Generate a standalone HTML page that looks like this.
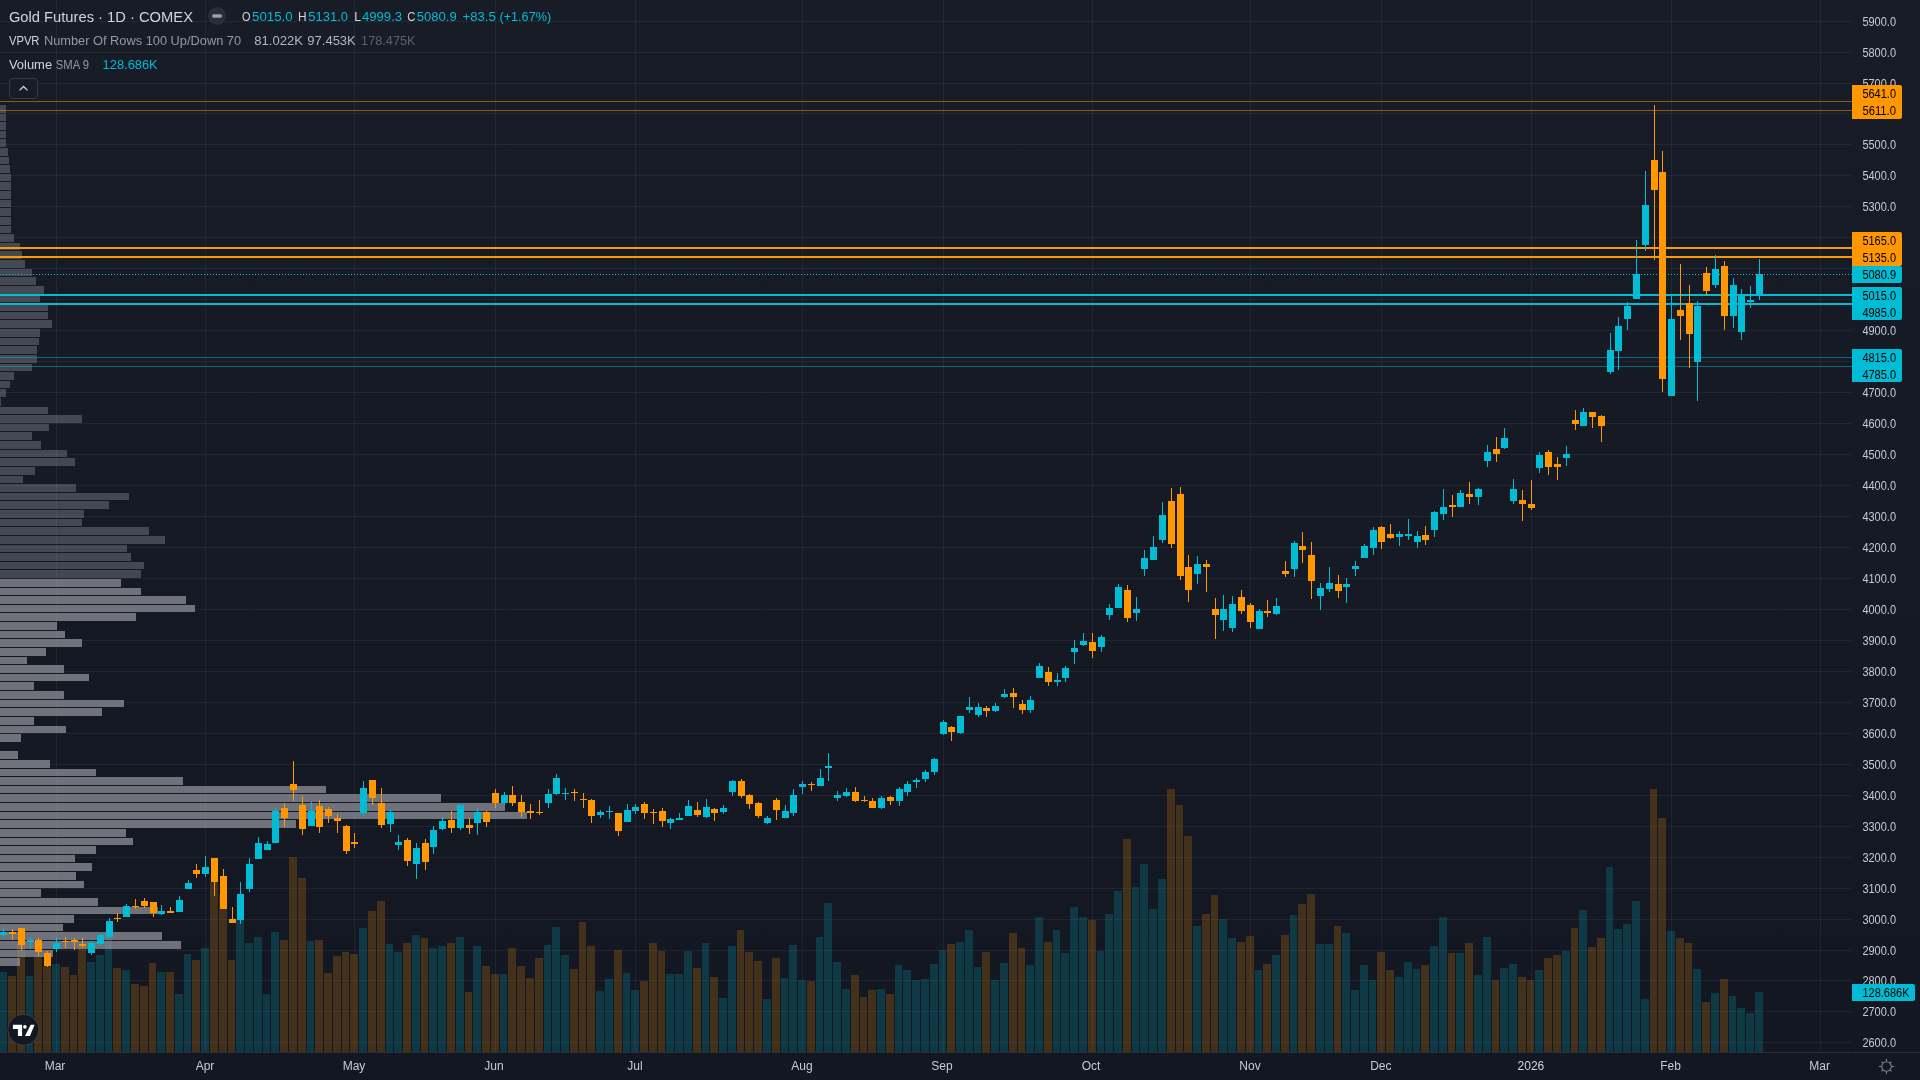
<!DOCTYPE html><html><head><meta charset="utf-8"><title>Gold Futures 1D COMEX</title><style>
html,body{margin:0;padding:0;width:1920px;height:1080px;overflow:hidden;background:#131722}
svg{position:absolute;left:0;top:0;display:block;will-change:transform}
text{font-family:"Liberation Sans",Arial,sans-serif;-webkit-font-smoothing:antialiased}
</style></head><body>
<svg width="1920" height="1080" viewBox="0 0 1920 1080">
<defs><linearGradient id="bg" x1="0" y1="0" x2="0" y2="1"><stop offset="0" stop-color="#181c27"/><stop offset="1" stop-color="#131722"/></linearGradient></defs>
<rect x="0" y="0" width="1920" height="1080" fill="url(#bg)"/>
<g shape-rendering="crispEdges" fill="rgba(240,243,250,0.06)">
<rect x="0" y="1042" width="1852" height="1"/>
<rect x="0" y="1011" width="1852" height="1"/>
<rect x="0" y="980" width="1852" height="1"/>
<rect x="0" y="950" width="1852" height="1"/>
<rect x="0" y="919" width="1852" height="1"/>
<rect x="0" y="888" width="1852" height="1"/>
<rect x="0" y="857" width="1852" height="1"/>
<rect x="0" y="826" width="1852" height="1"/>
<rect x="0" y="795" width="1852" height="1"/>
<rect x="0" y="764" width="1852" height="1"/>
<rect x="0" y="733" width="1852" height="1"/>
<rect x="0" y="702" width="1852" height="1"/>
<rect x="0" y="671" width="1852" height="1"/>
<rect x="0" y="640" width="1852" height="1"/>
<rect x="0" y="609" width="1852" height="1"/>
<rect x="0" y="578" width="1852" height="1"/>
<rect x="0" y="547" width="1852" height="1"/>
<rect x="0" y="516" width="1852" height="1"/>
<rect x="0" y="485" width="1852" height="1"/>
<rect x="0" y="454" width="1852" height="1"/>
<rect x="0" y="423" width="1852" height="1"/>
<rect x="0" y="392" width="1852" height="1"/>
<rect x="0" y="361" width="1852" height="1"/>
<rect x="0" y="330" width="1852" height="1"/>
<rect x="0" y="299" width="1852" height="1"/>
<rect x="0" y="268" width="1852" height="1"/>
<rect x="0" y="237" width="1852" height="1"/>
<rect x="0" y="206" width="1852" height="1"/>
<rect x="0" y="175" width="1852" height="1"/>
<rect x="0" y="144" width="1852" height="1"/>
<rect x="0" y="113" width="1852" height="1"/>
<rect x="0" y="83" width="1852" height="1"/>
<rect x="0" y="52" width="1852" height="1"/>
<rect x="0" y="21" width="1852" height="1"/>
<rect x="56" y="0" width="1" height="1052"/>
<rect x="205" y="0" width="1" height="1052"/>
<rect x="354" y="0" width="1" height="1052"/>
<rect x="495" y="0" width="1" height="1052"/>
<rect x="635" y="0" width="1" height="1052"/>
<rect x="802" y="0" width="1" height="1052"/>
<rect x="943" y="0" width="1" height="1052"/>
<rect x="1092" y="0" width="1" height="1052"/>
<rect x="1250" y="0" width="1" height="1052"/>
<rect x="1381" y="0" width="1" height="1052"/>
<rect x="1531" y="0" width="1" height="1052"/>
<rect x="1671" y="0" width="1" height="1052"/>
<rect x="1820" y="0" width="1" height="1052"/>
</g>
<g shape-rendering="crispEdges">
<rect x="0" y="972" width="7" height="80" fill="rgba(0,188,212,0.2)"/>
<rect x="8" y="976" width="8" height="76" fill="rgba(255,152,0,0.2)"/>
<rect x="17" y="945" width="8" height="107" fill="rgba(255,152,0,0.2)"/>
<rect x="26" y="976" width="7" height="76" fill="rgba(0,188,212,0.2)"/>
<rect x="34" y="956" width="8" height="96" fill="rgba(255,152,0,0.2)"/>
<rect x="43" y="966" width="8" height="86" fill="rgba(255,152,0,0.2)"/>
<rect x="52" y="964" width="8" height="88" fill="rgba(0,188,212,0.2)"/>
<rect x="61" y="967" width="8" height="85" fill="rgba(255,152,0,0.2)"/>
<rect x="70" y="975" width="7" height="77" fill="rgba(255,152,0,0.2)"/>
<rect x="78" y="947" width="8" height="105" fill="rgba(255,152,0,0.2)"/>
<rect x="87" y="962" width="8" height="90" fill="rgba(0,188,212,0.2)"/>
<rect x="96" y="955" width="8" height="97" fill="rgba(0,188,212,0.2)"/>
<rect x="105" y="937" width="7" height="115" fill="rgba(0,188,212,0.2)"/>
<rect x="113" y="968" width="8" height="84" fill="rgba(255,152,0,0.2)"/>
<rect x="122" y="970" width="8" height="82" fill="rgba(0,188,212,0.2)"/>
<rect x="131" y="984" width="8" height="68" fill="rgba(255,152,0,0.2)"/>
<rect x="140" y="986" width="8" height="66" fill="rgba(255,152,0,0.2)"/>
<rect x="149" y="963" width="7" height="89" fill="rgba(255,152,0,0.2)"/>
<rect x="157" y="972" width="8" height="80" fill="rgba(0,188,212,0.2)"/>
<rect x="166" y="972" width="8" height="80" fill="rgba(255,152,0,0.2)"/>
<rect x="175" y="994" width="8" height="58" fill="rgba(0,188,212,0.2)"/>
<rect x="184" y="954" width="7" height="98" fill="rgba(0,188,212,0.2)"/>
<rect x="192" y="960" width="8" height="92" fill="rgba(255,152,0,0.2)"/>
<rect x="201" y="948" width="8" height="104" fill="rgba(0,188,212,0.2)"/>
<rect x="210" y="882" width="8" height="170" fill="rgba(255,152,0,0.2)"/>
<rect x="219" y="894" width="8" height="158" fill="rgba(255,152,0,0.2)"/>
<rect x="228" y="960" width="7" height="92" fill="rgba(255,152,0,0.2)"/>
<rect x="236" y="918" width="8" height="134" fill="rgba(0,188,212,0.2)"/>
<rect x="245" y="943" width="8" height="109" fill="rgba(0,188,212,0.2)"/>
<rect x="254" y="937" width="8" height="115" fill="rgba(0,188,212,0.2)"/>
<rect x="263" y="994" width="7" height="58" fill="rgba(0,188,212,0.2)"/>
<rect x="271" y="932" width="8" height="120" fill="rgba(0,188,212,0.2)"/>
<rect x="280" y="940" width="8" height="112" fill="rgba(255,152,0,0.2)"/>
<rect x="289" y="857" width="8" height="195" fill="rgba(255,152,0,0.2)"/>
<rect x="298" y="878" width="8" height="174" fill="rgba(255,152,0,0.2)"/>
<rect x="307" y="941" width="7" height="111" fill="rgba(0,188,212,0.2)"/>
<rect x="315" y="940" width="8" height="112" fill="rgba(255,152,0,0.2)"/>
<rect x="324" y="973" width="8" height="79" fill="rgba(255,152,0,0.2)"/>
<rect x="333" y="956" width="8" height="96" fill="rgba(255,152,0,0.2)"/>
<rect x="342" y="952" width="7" height="100" fill="rgba(255,152,0,0.2)"/>
<rect x="350" y="954" width="8" height="98" fill="rgba(255,152,0,0.2)"/>
<rect x="359" y="928" width="8" height="124" fill="rgba(0,188,212,0.2)"/>
<rect x="368" y="911" width="8" height="141" fill="rgba(255,152,0,0.2)"/>
<rect x="377" y="901" width="8" height="151" fill="rgba(255,152,0,0.2)"/>
<rect x="386" y="944" width="7" height="108" fill="rgba(0,188,212,0.2)"/>
<rect x="394" y="952" width="8" height="100" fill="rgba(0,188,212,0.2)"/>
<rect x="403" y="943" width="8" height="109" fill="rgba(255,152,0,0.2)"/>
<rect x="412" y="935" width="8" height="117" fill="rgba(0,188,212,0.2)"/>
<rect x="421" y="938" width="7" height="114" fill="rgba(255,152,0,0.2)"/>
<rect x="429" y="948" width="8" height="104" fill="rgba(0,188,212,0.2)"/>
<rect x="438" y="946" width="8" height="106" fill="rgba(0,188,212,0.2)"/>
<rect x="447" y="943" width="8" height="109" fill="rgba(255,152,0,0.2)"/>
<rect x="456" y="937" width="8" height="115" fill="rgba(0,188,212,0.2)"/>
<rect x="465" y="992" width="7" height="60" fill="rgba(255,152,0,0.2)"/>
<rect x="473" y="946" width="8" height="106" fill="rgba(0,188,212,0.2)"/>
<rect x="482" y="966" width="8" height="86" fill="rgba(255,152,0,0.2)"/>
<rect x="491" y="974" width="8" height="78" fill="rgba(255,152,0,0.2)"/>
<rect x="500" y="974" width="7" height="78" fill="rgba(0,188,212,0.2)"/>
<rect x="508" y="948" width="8" height="104" fill="rgba(255,152,0,0.2)"/>
<rect x="517" y="966" width="8" height="86" fill="rgba(255,152,0,0.2)"/>
<rect x="526" y="978" width="8" height="74" fill="rgba(255,152,0,0.2)"/>
<rect x="535" y="958" width="8" height="94" fill="rgba(255,152,0,0.2)"/>
<rect x="544" y="945" width="7" height="107" fill="rgba(0,188,212,0.2)"/>
<rect x="552" y="927" width="8" height="125" fill="rgba(0,188,212,0.2)"/>
<rect x="561" y="955" width="8" height="97" fill="rgba(0,188,212,0.2)"/>
<rect x="570" y="969" width="8" height="83" fill="rgba(255,152,0,0.2)"/>
<rect x="579" y="922" width="7" height="130" fill="rgba(255,152,0,0.2)"/>
<rect x="587" y="946" width="8" height="106" fill="rgba(255,152,0,0.2)"/>
<rect x="596" y="991" width="8" height="61" fill="rgba(0,188,212,0.2)"/>
<rect x="605" y="979" width="8" height="73" fill="rgba(0,188,212,0.2)"/>
<rect x="614" y="950" width="8" height="102" fill="rgba(255,152,0,0.2)"/>
<rect x="623" y="973" width="7" height="79" fill="rgba(0,188,212,0.2)"/>
<rect x="631" y="990" width="8" height="62" fill="rgba(0,188,212,0.2)"/>
<rect x="640" y="981" width="8" height="71" fill="rgba(255,152,0,0.2)"/>
<rect x="649" y="943" width="8" height="109" fill="rgba(255,152,0,0.2)"/>
<rect x="658" y="951" width="7" height="101" fill="rgba(255,152,0,0.2)"/>
<rect x="666" y="974" width="8" height="78" fill="rgba(0,188,212,0.2)"/>
<rect x="675" y="974" width="8" height="78" fill="rgba(0,188,212,0.2)"/>
<rect x="684" y="951" width="8" height="101" fill="rgba(0,188,212,0.2)"/>
<rect x="693" y="968" width="8" height="84" fill="rgba(255,152,0,0.2)"/>
<rect x="702" y="943" width="7" height="109" fill="rgba(0,188,212,0.2)"/>
<rect x="710" y="977" width="8" height="75" fill="rgba(255,152,0,0.2)"/>
<rect x="719" y="998" width="8" height="54" fill="rgba(0,188,212,0.2)"/>
<rect x="728" y="946" width="8" height="106" fill="rgba(0,188,212,0.2)"/>
<rect x="737" y="930" width="7" height="122" fill="rgba(255,152,0,0.2)"/>
<rect x="745" y="952" width="8" height="100" fill="rgba(255,152,0,0.2)"/>
<rect x="754" y="961" width="8" height="91" fill="rgba(255,152,0,0.2)"/>
<rect x="763" y="999" width="8" height="53" fill="rgba(0,188,212,0.2)"/>
<rect x="772" y="958" width="8" height="94" fill="rgba(255,152,0,0.2)"/>
<rect x="781" y="978" width="7" height="74" fill="rgba(0,188,212,0.2)"/>
<rect x="789" y="945" width="8" height="107" fill="rgba(0,188,212,0.2)"/>
<rect x="798" y="980" width="8" height="72" fill="rgba(0,188,212,0.2)"/>
<rect x="807" y="981" width="8" height="71" fill="rgba(255,152,0,0.2)"/>
<rect x="816" y="937" width="7" height="115" fill="rgba(0,188,212,0.2)"/>
<rect x="824" y="903" width="8" height="149" fill="rgba(0,188,212,0.2)"/>
<rect x="833" y="962" width="8" height="90" fill="rgba(0,188,212,0.2)"/>
<rect x="842" y="989" width="8" height="63" fill="rgba(0,188,212,0.2)"/>
<rect x="851" y="975" width="8" height="77" fill="rgba(255,152,0,0.2)"/>
<rect x="860" y="997" width="7" height="55" fill="rgba(255,152,0,0.2)"/>
<rect x="868" y="990" width="8" height="62" fill="rgba(255,152,0,0.2)"/>
<rect x="877" y="989" width="8" height="63" fill="rgba(0,188,212,0.2)"/>
<rect x="886" y="994" width="8" height="58" fill="rgba(255,152,0,0.2)"/>
<rect x="895" y="965" width="7" height="87" fill="rgba(0,188,212,0.2)"/>
<rect x="903" y="970" width="8" height="82" fill="rgba(0,188,212,0.2)"/>
<rect x="912" y="980" width="8" height="72" fill="rgba(0,188,212,0.2)"/>
<rect x="921" y="979" width="8" height="73" fill="rgba(0,188,212,0.2)"/>
<rect x="930" y="964" width="8" height="88" fill="rgba(0,188,212,0.2)"/>
<rect x="939" y="950" width="7" height="102" fill="rgba(0,188,212,0.2)"/>
<rect x="947" y="944" width="8" height="108" fill="rgba(255,152,0,0.2)"/>
<rect x="956" y="942" width="8" height="110" fill="rgba(0,188,212,0.2)"/>
<rect x="965" y="930" width="8" height="122" fill="rgba(0,188,212,0.2)"/>
<rect x="974" y="967" width="7" height="85" fill="rgba(0,188,212,0.2)"/>
<rect x="982" y="952" width="8" height="100" fill="rgba(255,152,0,0.2)"/>
<rect x="991" y="980" width="8" height="72" fill="rgba(0,188,212,0.2)"/>
<rect x="1000" y="963" width="8" height="89" fill="rgba(0,188,212,0.2)"/>
<rect x="1009" y="933" width="8" height="119" fill="rgba(255,152,0,0.2)"/>
<rect x="1018" y="948" width="7" height="104" fill="rgba(255,152,0,0.2)"/>
<rect x="1026" y="965" width="8" height="87" fill="rgba(0,188,212,0.2)"/>
<rect x="1035" y="917" width="8" height="135" fill="rgba(0,188,212,0.2)"/>
<rect x="1044" y="942" width="8" height="110" fill="rgba(255,152,0,0.2)"/>
<rect x="1053" y="930" width="7" height="122" fill="rgba(0,188,212,0.2)"/>
<rect x="1061" y="953" width="8" height="99" fill="rgba(0,188,212,0.2)"/>
<rect x="1070" y="907" width="8" height="145" fill="rgba(0,188,212,0.2)"/>
<rect x="1079" y="917" width="8" height="135" fill="rgba(0,188,212,0.2)"/>
<rect x="1088" y="920" width="8" height="132" fill="rgba(255,152,0,0.2)"/>
<rect x="1097" y="951" width="7" height="101" fill="rgba(0,188,212,0.2)"/>
<rect x="1105" y="914" width="8" height="138" fill="rgba(0,188,212,0.2)"/>
<rect x="1114" y="891" width="8" height="161" fill="rgba(0,188,212,0.2)"/>
<rect x="1123" y="839" width="8" height="213" fill="rgba(255,152,0,0.2)"/>
<rect x="1132" y="887" width="7" height="165" fill="rgba(0,188,212,0.2)"/>
<rect x="1140" y="864" width="8" height="188" fill="rgba(0,188,212,0.2)"/>
<rect x="1149" y="909" width="8" height="143" fill="rgba(0,188,212,0.2)"/>
<rect x="1158" y="879" width="8" height="173" fill="rgba(0,188,212,0.2)"/>
<rect x="1167" y="789" width="8" height="263" fill="rgba(255,152,0,0.2)"/>
<rect x="1176" y="805" width="7" height="247" fill="rgba(255,152,0,0.2)"/>
<rect x="1184" y="836" width="8" height="216" fill="rgba(255,152,0,0.2)"/>
<rect x="1193" y="926" width="8" height="126" fill="rgba(0,188,212,0.2)"/>
<rect x="1202" y="914" width="8" height="138" fill="rgba(255,152,0,0.2)"/>
<rect x="1211" y="895" width="7" height="157" fill="rgba(255,152,0,0.2)"/>
<rect x="1219" y="919" width="8" height="133" fill="rgba(0,188,212,0.2)"/>
<rect x="1228" y="938" width="8" height="114" fill="rgba(0,188,212,0.2)"/>
<rect x="1237" y="942" width="8" height="110" fill="rgba(255,152,0,0.2)"/>
<rect x="1246" y="936" width="8" height="116" fill="rgba(255,152,0,0.2)"/>
<rect x="1255" y="970" width="7" height="82" fill="rgba(0,188,212,0.2)"/>
<rect x="1263" y="964" width="8" height="88" fill="rgba(255,152,0,0.2)"/>
<rect x="1272" y="955" width="8" height="97" fill="rgba(0,188,212,0.2)"/>
<rect x="1281" y="935" width="8" height="117" fill="rgba(255,152,0,0.2)"/>
<rect x="1290" y="915" width="7" height="137" fill="rgba(0,188,212,0.2)"/>
<rect x="1298" y="904" width="8" height="148" fill="rgba(255,152,0,0.2)"/>
<rect x="1307" y="894" width="8" height="158" fill="rgba(255,152,0,0.2)"/>
<rect x="1316" y="944" width="8" height="108" fill="rgba(0,188,212,0.2)"/>
<rect x="1325" y="944" width="8" height="108" fill="rgba(0,188,212,0.2)"/>
<rect x="1334" y="926" width="7" height="126" fill="rgba(255,152,0,0.2)"/>
<rect x="1342" y="933" width="8" height="119" fill="rgba(0,188,212,0.2)"/>
<rect x="1351" y="990" width="8" height="62" fill="rgba(0,188,212,0.2)"/>
<rect x="1360" y="965" width="8" height="87" fill="rgba(0,188,212,0.2)"/>
<rect x="1369" y="980" width="7" height="72" fill="rgba(0,188,212,0.2)"/>
<rect x="1377" y="952" width="8" height="100" fill="rgba(255,152,0,0.2)"/>
<rect x="1386" y="970" width="8" height="82" fill="rgba(255,152,0,0.2)"/>
<rect x="1395" y="977" width="8" height="75" fill="rgba(0,188,212,0.2)"/>
<rect x="1404" y="962" width="8" height="90" fill="rgba(0,188,212,0.2)"/>
<rect x="1413" y="969" width="7" height="83" fill="rgba(0,188,212,0.2)"/>
<rect x="1421" y="965" width="8" height="87" fill="rgba(255,152,0,0.2)"/>
<rect x="1430" y="946" width="8" height="106" fill="rgba(0,188,212,0.2)"/>
<rect x="1439" y="917" width="8" height="135" fill="rgba(0,188,212,0.2)"/>
<rect x="1448" y="953" width="7" height="99" fill="rgba(255,152,0,0.2)"/>
<rect x="1456" y="953" width="8" height="99" fill="rgba(0,188,212,0.2)"/>
<rect x="1465" y="943" width="8" height="109" fill="rgba(255,152,0,0.2)"/>
<rect x="1474" y="975" width="8" height="77" fill="rgba(0,188,212,0.2)"/>
<rect x="1483" y="937" width="8" height="115" fill="rgba(0,188,212,0.2)"/>
<rect x="1492" y="980" width="7" height="72" fill="rgba(255,152,0,0.2)"/>
<rect x="1500" y="968" width="8" height="84" fill="rgba(0,188,212,0.2)"/>
<rect x="1509" y="964" width="8" height="88" fill="rgba(0,188,212,0.2)"/>
<rect x="1518" y="977" width="8" height="75" fill="rgba(255,152,0,0.2)"/>
<rect x="1527" y="980" width="7" height="72" fill="rgba(255,152,0,0.2)"/>
<rect x="1535" y="970" width="8" height="82" fill="rgba(0,188,212,0.2)"/>
<rect x="1544" y="958" width="8" height="94" fill="rgba(255,152,0,0.2)"/>
<rect x="1553" y="955" width="8" height="97" fill="rgba(255,152,0,0.2)"/>
<rect x="1562" y="951" width="8" height="101" fill="rgba(0,188,212,0.2)"/>
<rect x="1571" y="928" width="7" height="124" fill="rgba(255,152,0,0.2)"/>
<rect x="1579" y="910" width="8" height="142" fill="rgba(0,188,212,0.2)"/>
<rect x="1588" y="947" width="8" height="105" fill="rgba(255,152,0,0.2)"/>
<rect x="1597" y="938" width="8" height="114" fill="rgba(255,152,0,0.2)"/>
<rect x="1606" y="867" width="7" height="185" fill="rgba(0,188,212,0.2)"/>
<rect x="1614" y="929" width="8" height="123" fill="rgba(0,188,212,0.2)"/>
<rect x="1623" y="924" width="8" height="128" fill="rgba(0,188,212,0.2)"/>
<rect x="1632" y="901" width="8" height="151" fill="rgba(0,188,212,0.2)"/>
<rect x="1641" y="999" width="8" height="53" fill="rgba(0,188,212,0.2)"/>
<rect x="1650" y="789" width="7" height="263" fill="rgba(255,152,0,0.2)"/>
<rect x="1658" y="818" width="8" height="234" fill="rgba(255,152,0,0.2)"/>
<rect x="1667" y="931" width="8" height="121" fill="rgba(0,188,212,0.2)"/>
<rect x="1676" y="938" width="8" height="114" fill="rgba(255,152,0,0.2)"/>
<rect x="1685" y="943" width="7" height="109" fill="rgba(255,152,0,0.2)"/>
<rect x="1693" y="969" width="8" height="83" fill="rgba(0,188,212,0.2)"/>
<rect x="1702" y="1002" width="8" height="50" fill="rgba(255,152,0,0.2)"/>
<rect x="1711" y="993" width="8" height="59" fill="rgba(0,188,212,0.2)"/>
<rect x="1720" y="979" width="8" height="73" fill="rgba(255,152,0,0.2)"/>
<rect x="1729" y="996" width="7" height="56" fill="rgba(0,188,212,0.2)"/>
<rect x="1737" y="1008" width="8" height="44" fill="rgba(0,188,212,0.2)"/>
<rect x="1746" y="1013" width="8" height="39" fill="rgba(0,188,212,0.2)"/>
<rect x="1755" y="992" width="8" height="60" fill="rgba(0,188,212,0.2)"/>
</g>
<g shape-rendering="crispEdges">
<rect x="0" y="105" width="6" height="8" fill="rgba(149,152,161,0.37)"/>
<rect x="0" y="114" width="6" height="7" fill="rgba(149,152,161,0.37)"/>
<rect x="0" y="122" width="6" height="8" fill="rgba(149,152,161,0.37)"/>
<rect x="0" y="131" width="6" height="7" fill="rgba(149,152,161,0.37)"/>
<rect x="0" y="139" width="6" height="8" fill="rgba(149,152,161,0.37)"/>
<rect x="0" y="148" width="8" height="8" fill="rgba(149,152,161,0.37)"/>
<rect x="0" y="157" width="9" height="7" fill="rgba(149,152,161,0.37)"/>
<rect x="0" y="165" width="10" height="8" fill="rgba(149,152,161,0.37)"/>
<rect x="0" y="174" width="11" height="7" fill="rgba(149,152,161,0.37)"/>
<rect x="0" y="182" width="11" height="8" fill="rgba(149,152,161,0.37)"/>
<rect x="0" y="191" width="11" height="8" fill="rgba(149,152,161,0.37)"/>
<rect x="0" y="200" width="11" height="7" fill="rgba(149,152,161,0.37)"/>
<rect x="0" y="208" width="11" height="8" fill="rgba(149,152,161,0.37)"/>
<rect x="0" y="217" width="11" height="8" fill="rgba(149,152,161,0.37)"/>
<rect x="0" y="226" width="11" height="7" fill="rgba(149,152,161,0.37)"/>
<rect x="0" y="234" width="14" height="8" fill="rgba(149,152,161,0.37)"/>
<rect x="0" y="243" width="20" height="7" fill="rgba(149,152,161,0.37)"/>
<rect x="0" y="251" width="22" height="8" fill="rgba(149,152,161,0.37)"/>
<rect x="0" y="260" width="25" height="8" fill="rgba(149,152,161,0.37)"/>
<rect x="0" y="269" width="32" height="7" fill="rgba(149,152,161,0.37)"/>
<rect x="0" y="277" width="36" height="8" fill="rgba(149,152,161,0.37)"/>
<rect x="0" y="286" width="44" height="8" fill="rgba(149,152,161,0.37)"/>
<rect x="0" y="295" width="40" height="7" fill="rgba(149,152,161,0.37)"/>
<rect x="0" y="303" width="48" height="8" fill="rgba(149,152,161,0.37)"/>
<rect x="0" y="312" width="48" height="7" fill="rgba(149,152,161,0.37)"/>
<rect x="0" y="320" width="52" height="8" fill="rgba(149,152,161,0.37)"/>
<rect x="0" y="329" width="40" height="8" fill="rgba(149,152,161,0.37)"/>
<rect x="0" y="338" width="39" height="7" fill="rgba(149,152,161,0.37)"/>
<rect x="0" y="346" width="37" height="8" fill="rgba(149,152,161,0.37)"/>
<rect x="0" y="355" width="37" height="8" fill="rgba(149,152,161,0.37)"/>
<rect x="0" y="364" width="32" height="7" fill="rgba(149,152,161,0.37)"/>
<rect x="0" y="372" width="14" height="8" fill="rgba(149,152,161,0.37)"/>
<rect x="0" y="381" width="10" height="7" fill="rgba(149,152,161,0.37)"/>
<rect x="0" y="389" width="6" height="8" fill="rgba(149,152,161,0.37)"/>
<rect x="0" y="398" width="1" height="8" fill="rgba(149,152,161,0.37)"/>
<rect x="0" y="407" width="48" height="7" fill="rgba(149,152,161,0.37)"/>
<rect x="0" y="415" width="82" height="8" fill="rgba(149,152,161,0.37)"/>
<rect x="0" y="424" width="49" height="7" fill="rgba(149,152,161,0.37)"/>
<rect x="0" y="432" width="32" height="8" fill="rgba(149,152,161,0.37)"/>
<rect x="0" y="441" width="41" height="8" fill="rgba(149,152,161,0.37)"/>
<rect x="0" y="450" width="67" height="7" fill="rgba(149,152,161,0.37)"/>
<rect x="0" y="458" width="75" height="8" fill="rgba(149,152,161,0.37)"/>
<rect x="0" y="467" width="35" height="8" fill="rgba(149,152,161,0.37)"/>
<rect x="0" y="476" width="23" height="7" fill="rgba(149,152,161,0.37)"/>
<rect x="0" y="484" width="76" height="8" fill="rgba(149,152,161,0.37)"/>
<rect x="0" y="493" width="129" height="7" fill="rgba(149,152,161,0.37)"/>
<rect x="0" y="501" width="109" height="8" fill="rgba(149,152,161,0.37)"/>
<rect x="0" y="510" width="84" height="8" fill="rgba(149,152,161,0.37)"/>
<rect x="0" y="519" width="82" height="7" fill="rgba(149,152,161,0.37)"/>
<rect x="0" y="527" width="149" height="8" fill="rgba(149,152,161,0.37)"/>
<rect x="0" y="536" width="165" height="8" fill="rgba(149,152,161,0.37)"/>
<rect x="0" y="545" width="127" height="7" fill="rgba(149,152,161,0.37)"/>
<rect x="0" y="553" width="131" height="8" fill="rgba(149,152,161,0.37)"/>
<rect x="0" y="562" width="144" height="7" fill="rgba(149,152,161,0.37)"/>
<rect x="0" y="570" width="141" height="8" fill="rgba(149,152,161,0.37)"/>
<rect x="0" y="579" width="121" height="8" fill="rgba(149,152,161,0.7)"/>
<rect x="0" y="588" width="141" height="7" fill="rgba(149,152,161,0.7)"/>
<rect x="0" y="596" width="186" height="8" fill="rgba(149,152,161,0.7)"/>
<rect x="0" y="605" width="195" height="7" fill="rgba(149,152,161,0.7)"/>
<rect x="0" y="613" width="136" height="8" fill="rgba(149,152,161,0.7)"/>
<rect x="0" y="622" width="57" height="8" fill="rgba(149,152,161,0.7)"/>
<rect x="0" y="631" width="65" height="7" fill="rgba(149,152,161,0.7)"/>
<rect x="0" y="639" width="82" height="8" fill="rgba(149,152,161,0.7)"/>
<rect x="0" y="648" width="46" height="8" fill="rgba(149,152,161,0.7)"/>
<rect x="0" y="657" width="27" height="7" fill="rgba(149,152,161,0.7)"/>
<rect x="0" y="665" width="64" height="8" fill="rgba(149,152,161,0.7)"/>
<rect x="0" y="674" width="89" height="7" fill="rgba(149,152,161,0.7)"/>
<rect x="0" y="682" width="34" height="8" fill="rgba(149,152,161,0.7)"/>
<rect x="0" y="691" width="64" height="8" fill="rgba(149,152,161,0.7)"/>
<rect x="0" y="700" width="124" height="7" fill="rgba(149,152,161,0.7)"/>
<rect x="0" y="708" width="102" height="8" fill="rgba(149,152,161,0.7)"/>
<rect x="0" y="717" width="34" height="8" fill="rgba(149,152,161,0.7)"/>
<rect x="0" y="726" width="66" height="7" fill="rgba(149,152,161,0.7)"/>
<rect x="0" y="734" width="21" height="8" fill="rgba(149,152,161,0.7)"/>
<rect x="0" y="751" width="18" height="8" fill="rgba(149,152,161,0.7)"/>
<rect x="0" y="760" width="50" height="8" fill="rgba(149,152,161,0.7)"/>
<rect x="0" y="769" width="96" height="7" fill="rgba(149,152,161,0.7)"/>
<rect x="0" y="777" width="183" height="8" fill="rgba(149,152,161,0.7)"/>
<rect x="0" y="786" width="326" height="7" fill="rgba(149,152,161,0.7)"/>
<rect x="0" y="794" width="441" height="8" fill="rgba(149,152,161,0.7)"/>
<rect x="0" y="803" width="505" height="8" fill="rgba(149,152,161,0.7)"/>
<rect x="0" y="812" width="527" height="7" fill="rgba(149,152,161,0.7)"/>
<rect x="0" y="820" width="296" height="8" fill="rgba(149,152,161,0.7)"/>
<rect x="0" y="829" width="126" height="8" fill="rgba(149,152,161,0.7)"/>
<rect x="0" y="838" width="133" height="7" fill="rgba(149,152,161,0.7)"/>
<rect x="0" y="846" width="96" height="8" fill="rgba(149,152,161,0.7)"/>
<rect x="0" y="855" width="75" height="7" fill="rgba(149,152,161,0.7)"/>
<rect x="0" y="863" width="92" height="8" fill="rgba(149,152,161,0.7)"/>
<rect x="0" y="872" width="76" height="8" fill="rgba(149,152,161,0.7)"/>
<rect x="0" y="881" width="84" height="7" fill="rgba(149,152,161,0.7)"/>
<rect x="0" y="889" width="41" height="8" fill="rgba(149,152,161,0.7)"/>
<rect x="0" y="898" width="98" height="8" fill="rgba(149,152,161,0.7)"/>
<rect x="0" y="907" width="158" height="7" fill="rgba(149,152,161,0.7)"/>
<rect x="0" y="915" width="74" height="8" fill="rgba(149,152,161,0.7)"/>
<rect x="0" y="924" width="63" height="7" fill="rgba(149,152,161,0.7)"/>
<rect x="0" y="932" width="162" height="8" fill="rgba(149,152,161,0.7)"/>
<rect x="0" y="941" width="181" height="8" fill="rgba(149,152,161,0.7)"/>
<rect x="0" y="950" width="53" height="7" fill="rgba(149,152,161,0.7)"/>
<rect x="0" y="958" width="20" height="8" fill="rgba(149,152,161,0.7)"/>
</g>
<g shape-rendering="crispEdges">
<rect x="0" y="101" width="1852" height="1" fill="rgba(255,152,0,0.5)"/>
<rect x="0" y="110" width="1852" height="1" fill="rgba(255,152,0,0.5)"/>
<rect x="0" y="247" width="1852" height="2" fill="#ff9800"/>
<rect x="0" y="256" width="1852" height="2" fill="#ff9800"/>
<rect x="0" y="294" width="1852" height="2" fill="#00bcd4"/>
<rect x="0" y="303" width="1852" height="2" fill="#00bcd4"/>
<rect x="0" y="357" width="1852" height="1" fill="rgba(0,188,212,0.5)"/>
<rect x="0" y="366" width="1852" height="1" fill="rgba(0,188,212,0.5)"/>
<line x1="0" y1="274.5" x2="1852" y2="274.5" stroke="#00bcd4" stroke-width="1" stroke-dasharray="1 2"/>
</g>
<g shape-rendering="crispEdges">
<rect x="3" y="927" width="1" height="10" fill="#00bcd4"/>
<rect x="0" y="932" width="7" height="3" fill="#00bcd4"/>
<rect x="12" y="929" width="1" height="11" fill="#ff9800"/>
<rect x="9" y="932" width="7" height="2" fill="#ff9800"/>
<rect x="21" y="928" width="1" height="22" fill="#ff9800"/>
<rect x="18" y="928" width="7" height="17" fill="#ff9800"/>
<rect x="30" y="937" width="1" height="12" fill="#00bcd4"/>
<rect x="27" y="940" width="7" height="2" fill="#00bcd4"/>
<rect x="38" y="938" width="1" height="18" fill="#ff9800"/>
<rect x="35" y="940" width="7" height="12" fill="#ff9800"/>
<rect x="47" y="951" width="1" height="16" fill="#ff9800"/>
<rect x="44" y="953" width="7" height="13" fill="#ff9800"/>
<rect x="56" y="937" width="1" height="15" fill="#00bcd4"/>
<rect x="53" y="943" width="7" height="6" fill="#00bcd4"/>
<rect x="65" y="937" width="1" height="11" fill="#ff9800"/>
<rect x="62" y="941" width="7" height="1" fill="#ff9800"/>
<rect x="74" y="938" width="1" height="12" fill="#ff9800"/>
<rect x="71" y="940" width="7" height="2" fill="#ff9800"/>
<rect x="82" y="938" width="1" height="10" fill="#ff9800"/>
<rect x="79" y="944" width="7" height="2" fill="#ff9800"/>
<rect x="91" y="941" width="1" height="14" fill="#00bcd4"/>
<rect x="88" y="943" width="7" height="10" fill="#00bcd4"/>
<rect x="100" y="934" width="1" height="12" fill="#00bcd4"/>
<rect x="97" y="935" width="7" height="9" fill="#00bcd4"/>
<rect x="109" y="918" width="1" height="19" fill="#00bcd4"/>
<rect x="106" y="921" width="7" height="16" fill="#00bcd4"/>
<rect x="117" y="913" width="1" height="9" fill="#ff9800"/>
<rect x="114" y="918" width="7" height="1" fill="#ff9800"/>
<rect x="126" y="904" width="1" height="13" fill="#00bcd4"/>
<rect x="123" y="906" width="7" height="11" fill="#00bcd4"/>
<rect x="135" y="899" width="1" height="10" fill="#ff9800"/>
<rect x="132" y="906" width="7" height="1" fill="#ff9800"/>
<rect x="144" y="898" width="1" height="10" fill="#ff9800"/>
<rect x="141" y="901" width="7" height="5" fill="#ff9800"/>
<rect x="153" y="902" width="1" height="15" fill="#ff9800"/>
<rect x="150" y="902" width="7" height="11" fill="#ff9800"/>
<rect x="161" y="905" width="1" height="10" fill="#00bcd4"/>
<rect x="158" y="911" width="7" height="3" fill="#00bcd4"/>
<rect x="170" y="907" width="1" height="6" fill="#ff9800"/>
<rect x="167" y="911" width="7" height="2" fill="#ff9800"/>
<rect x="179" y="896" width="1" height="16" fill="#00bcd4"/>
<rect x="176" y="900" width="7" height="12" fill="#00bcd4"/>
<rect x="188" y="880" width="1" height="9" fill="#00bcd4"/>
<rect x="185" y="883" width="7" height="6" fill="#00bcd4"/>
<rect x="196" y="864" width="1" height="14" fill="#ff9800"/>
<rect x="193" y="870" width="7" height="4" fill="#ff9800"/>
<rect x="205" y="856" width="1" height="21" fill="#00bcd4"/>
<rect x="202" y="867" width="7" height="7" fill="#00bcd4"/>
<rect x="214" y="858" width="1" height="38" fill="#ff9800"/>
<rect x="211" y="858" width="7" height="24" fill="#ff9800"/>
<rect x="223" y="869" width="1" height="40" fill="#ff9800"/>
<rect x="220" y="876" width="7" height="33" fill="#ff9800"/>
<rect x="232" y="907" width="1" height="16" fill="#ff9800"/>
<rect x="229" y="919" width="7" height="4" fill="#ff9800"/>
<rect x="240" y="882" width="1" height="42" fill="#00bcd4"/>
<rect x="237" y="894" width="7" height="26" fill="#00bcd4"/>
<rect x="249" y="858" width="1" height="34" fill="#00bcd4"/>
<rect x="246" y="864" width="7" height="25" fill="#00bcd4"/>
<rect x="258" y="837" width="1" height="22" fill="#00bcd4"/>
<rect x="255" y="843" width="7" height="16" fill="#00bcd4"/>
<rect x="267" y="841" width="1" height="9" fill="#00bcd4"/>
<rect x="264" y="844" width="7" height="6" fill="#00bcd4"/>
<rect x="275" y="808" width="1" height="35" fill="#00bcd4"/>
<rect x="272" y="811" width="7" height="32" fill="#00bcd4"/>
<rect x="284" y="803" width="1" height="24" fill="#ff9800"/>
<rect x="281" y="808" width="7" height="10" fill="#ff9800"/>
<rect x="293" y="761" width="1" height="40" fill="#ff9800"/>
<rect x="290" y="784" width="7" height="6" fill="#ff9800"/>
<rect x="302" y="796" width="1" height="39" fill="#ff9800"/>
<rect x="299" y="805" width="7" height="24" fill="#ff9800"/>
<rect x="311" y="802" width="1" height="24" fill="#00bcd4"/>
<rect x="308" y="811" width="7" height="15" fill="#00bcd4"/>
<rect x="319" y="800" width="1" height="33" fill="#ff9800"/>
<rect x="316" y="806" width="7" height="21" fill="#ff9800"/>
<rect x="328" y="807" width="1" height="16" fill="#ff9800"/>
<rect x="325" y="809" width="7" height="7" fill="#ff9800"/>
<rect x="337" y="814" width="1" height="19" fill="#ff9800"/>
<rect x="334" y="818" width="7" height="3" fill="#ff9800"/>
<rect x="346" y="825" width="1" height="29" fill="#ff9800"/>
<rect x="343" y="826" width="7" height="25" fill="#ff9800"/>
<rect x="354" y="833" width="1" height="15" fill="#ff9800"/>
<rect x="351" y="842" width="7" height="2" fill="#ff9800"/>
<rect x="363" y="781" width="1" height="35" fill="#00bcd4"/>
<rect x="360" y="788" width="7" height="25" fill="#00bcd4"/>
<rect x="372" y="780" width="1" height="25" fill="#ff9800"/>
<rect x="369" y="780" width="7" height="18" fill="#ff9800"/>
<rect x="381" y="788" width="1" height="40" fill="#ff9800"/>
<rect x="378" y="803" width="7" height="22" fill="#ff9800"/>
<rect x="390" y="809" width="1" height="23" fill="#00bcd4"/>
<rect x="387" y="812" width="7" height="12" fill="#00bcd4"/>
<rect x="398" y="835" width="1" height="15" fill="#00bcd4"/>
<rect x="395" y="842" width="7" height="3" fill="#00bcd4"/>
<rect x="407" y="838" width="1" height="28" fill="#ff9800"/>
<rect x="404" y="840" width="7" height="21" fill="#ff9800"/>
<rect x="416" y="843" width="1" height="36" fill="#00bcd4"/>
<rect x="413" y="848" width="7" height="16" fill="#00bcd4"/>
<rect x="425" y="839" width="1" height="31" fill="#ff9800"/>
<rect x="422" y="843" width="7" height="19" fill="#ff9800"/>
<rect x="433" y="826" width="1" height="28" fill="#00bcd4"/>
<rect x="430" y="830" width="7" height="17" fill="#00bcd4"/>
<rect x="442" y="817" width="1" height="13" fill="#00bcd4"/>
<rect x="439" y="821" width="7" height="8" fill="#00bcd4"/>
<rect x="451" y="811" width="1" height="22" fill="#ff9800"/>
<rect x="448" y="820" width="7" height="8" fill="#ff9800"/>
<rect x="460" y="805" width="1" height="25" fill="#00bcd4"/>
<rect x="457" y="805" width="7" height="23" fill="#00bcd4"/>
<rect x="469" y="818" width="1" height="16" fill="#ff9800"/>
<rect x="466" y="825" width="7" height="3" fill="#ff9800"/>
<rect x="477" y="808" width="1" height="27" fill="#00bcd4"/>
<rect x="474" y="812" width="7" height="11" fill="#00bcd4"/>
<rect x="486" y="811" width="1" height="16" fill="#ff9800"/>
<rect x="483" y="812" width="7" height="10" fill="#ff9800"/>
<rect x="495" y="789" width="1" height="19" fill="#ff9800"/>
<rect x="492" y="793" width="7" height="10" fill="#ff9800"/>
<rect x="504" y="792" width="1" height="13" fill="#00bcd4"/>
<rect x="501" y="795" width="7" height="8" fill="#00bcd4"/>
<rect x="512" y="786" width="1" height="20" fill="#ff9800"/>
<rect x="509" y="795" width="7" height="8" fill="#ff9800"/>
<rect x="521" y="795" width="1" height="22" fill="#ff9800"/>
<rect x="518" y="802" width="7" height="10" fill="#ff9800"/>
<rect x="530" y="804" width="1" height="15" fill="#ff9800"/>
<rect x="527" y="811" width="7" height="2" fill="#ff9800"/>
<rect x="539" y="800" width="1" height="15" fill="#ff9800"/>
<rect x="536" y="812" width="7" height="1" fill="#ff9800"/>
<rect x="548" y="789" width="1" height="19" fill="#00bcd4"/>
<rect x="545" y="794" width="7" height="9" fill="#00bcd4"/>
<rect x="556" y="774" width="1" height="21" fill="#00bcd4"/>
<rect x="553" y="778" width="7" height="16" fill="#00bcd4"/>
<rect x="565" y="788" width="1" height="12" fill="#00bcd4"/>
<rect x="562" y="793" width="7" height="1" fill="#00bcd4"/>
<rect x="574" y="789" width="1" height="12" fill="#ff9800"/>
<rect x="571" y="792" width="7" height="1" fill="#ff9800"/>
<rect x="583" y="793" width="1" height="15" fill="#ff9800"/>
<rect x="580" y="799" width="7" height="1" fill="#ff9800"/>
<rect x="591" y="799" width="1" height="24" fill="#ff9800"/>
<rect x="588" y="800" width="7" height="16" fill="#ff9800"/>
<rect x="600" y="810" width="1" height="8" fill="#00bcd4"/>
<rect x="597" y="812" width="7" height="3" fill="#00bcd4"/>
<rect x="609" y="806" width="1" height="13" fill="#00bcd4"/>
<rect x="606" y="811" width="7" height="1" fill="#00bcd4"/>
<rect x="618" y="813" width="1" height="23" fill="#ff9800"/>
<rect x="615" y="813" width="7" height="18" fill="#ff9800"/>
<rect x="627" y="804" width="1" height="18" fill="#00bcd4"/>
<rect x="624" y="810" width="7" height="12" fill="#00bcd4"/>
<rect x="635" y="804" width="1" height="10" fill="#00bcd4"/>
<rect x="632" y="807" width="7" height="4" fill="#00bcd4"/>
<rect x="644" y="802" width="1" height="17" fill="#ff9800"/>
<rect x="641" y="804" width="7" height="9" fill="#ff9800"/>
<rect x="653" y="809" width="1" height="15" fill="#ff9800"/>
<rect x="650" y="812" width="7" height="1" fill="#ff9800"/>
<rect x="662" y="808" width="1" height="19" fill="#ff9800"/>
<rect x="659" y="811" width="7" height="10" fill="#ff9800"/>
<rect x="670" y="818" width="1" height="11" fill="#00bcd4"/>
<rect x="667" y="819" width="7" height="4" fill="#00bcd4"/>
<rect x="679" y="813" width="1" height="7" fill="#00bcd4"/>
<rect x="676" y="818" width="7" height="2" fill="#00bcd4"/>
<rect x="688" y="800" width="1" height="16" fill="#00bcd4"/>
<rect x="685" y="806" width="7" height="10" fill="#00bcd4"/>
<rect x="697" y="802" width="1" height="15" fill="#ff9800"/>
<rect x="694" y="810" width="7" height="5" fill="#ff9800"/>
<rect x="706" y="799" width="1" height="19" fill="#00bcd4"/>
<rect x="703" y="807" width="7" height="10" fill="#00bcd4"/>
<rect x="714" y="808" width="1" height="13" fill="#ff9800"/>
<rect x="711" y="809" width="7" height="4" fill="#ff9800"/>
<rect x="723" y="805" width="1" height="9" fill="#00bcd4"/>
<rect x="720" y="808" width="7" height="4" fill="#00bcd4"/>
<rect x="732" y="780" width="1" height="16" fill="#00bcd4"/>
<rect x="729" y="781" width="7" height="11" fill="#00bcd4"/>
<rect x="741" y="779" width="1" height="19" fill="#ff9800"/>
<rect x="738" y="781" width="7" height="15" fill="#ff9800"/>
<rect x="749" y="794" width="1" height="15" fill="#ff9800"/>
<rect x="746" y="795" width="7" height="9" fill="#ff9800"/>
<rect x="758" y="802" width="1" height="16" fill="#ff9800"/>
<rect x="755" y="803" width="7" height="13" fill="#ff9800"/>
<rect x="767" y="816" width="1" height="8" fill="#00bcd4"/>
<rect x="764" y="818" width="7" height="5" fill="#00bcd4"/>
<rect x="776" y="798" width="1" height="22" fill="#ff9800"/>
<rect x="773" y="800" width="7" height="10" fill="#ff9800"/>
<rect x="785" y="805" width="1" height="13" fill="#00bcd4"/>
<rect x="782" y="811" width="7" height="7" fill="#00bcd4"/>
<rect x="793" y="789" width="1" height="27" fill="#00bcd4"/>
<rect x="790" y="795" width="7" height="18" fill="#00bcd4"/>
<rect x="802" y="781" width="1" height="13" fill="#00bcd4"/>
<rect x="799" y="784" width="7" height="3" fill="#00bcd4"/>
<rect x="811" y="782" width="1" height="9" fill="#ff9800"/>
<rect x="808" y="784" width="7" height="1" fill="#ff9800"/>
<rect x="820" y="769" width="1" height="17" fill="#00bcd4"/>
<rect x="817" y="778" width="7" height="8" fill="#00bcd4"/>
<rect x="828" y="753" width="1" height="28" fill="#00bcd4"/>
<rect x="825" y="766" width="7" height="2" fill="#00bcd4"/>
<rect x="837" y="791" width="1" height="10" fill="#00bcd4"/>
<rect x="834" y="795" width="7" height="3" fill="#00bcd4"/>
<rect x="846" y="788" width="1" height="9" fill="#00bcd4"/>
<rect x="843" y="792" width="7" height="4" fill="#00bcd4"/>
<rect x="855" y="787" width="1" height="15" fill="#ff9800"/>
<rect x="852" y="792" width="7" height="9" fill="#ff9800"/>
<rect x="864" y="796" width="1" height="6" fill="#ff9800"/>
<rect x="861" y="800" width="7" height="1" fill="#ff9800"/>
<rect x="872" y="798" width="1" height="10" fill="#ff9800"/>
<rect x="869" y="801" width="7" height="7" fill="#ff9800"/>
<rect x="881" y="796" width="1" height="13" fill="#00bcd4"/>
<rect x="878" y="798" width="7" height="10" fill="#00bcd4"/>
<rect x="890" y="796" width="1" height="9" fill="#ff9800"/>
<rect x="887" y="797" width="7" height="4" fill="#ff9800"/>
<rect x="899" y="787" width="1" height="19" fill="#00bcd4"/>
<rect x="896" y="789" width="7" height="12" fill="#00bcd4"/>
<rect x="907" y="781" width="1" height="15" fill="#00bcd4"/>
<rect x="904" y="784" width="7" height="8" fill="#00bcd4"/>
<rect x="916" y="778" width="1" height="10" fill="#00bcd4"/>
<rect x="913" y="780" width="7" height="2" fill="#00bcd4"/>
<rect x="925" y="770" width="1" height="12" fill="#00bcd4"/>
<rect x="922" y="772" width="7" height="7" fill="#00bcd4"/>
<rect x="934" y="758" width="1" height="17" fill="#00bcd4"/>
<rect x="931" y="759" width="7" height="13" fill="#00bcd4"/>
<rect x="943" y="720" width="1" height="15" fill="#00bcd4"/>
<rect x="940" y="722" width="7" height="12" fill="#00bcd4"/>
<rect x="951" y="726" width="1" height="15" fill="#ff9800"/>
<rect x="948" y="727" width="7" height="5" fill="#ff9800"/>
<rect x="960" y="716" width="1" height="18" fill="#00bcd4"/>
<rect x="957" y="716" width="7" height="17" fill="#00bcd4"/>
<rect x="969" y="697" width="1" height="16" fill="#00bcd4"/>
<rect x="966" y="707" width="7" height="3" fill="#00bcd4"/>
<rect x="978" y="703" width="1" height="14" fill="#00bcd4"/>
<rect x="975" y="707" width="7" height="8" fill="#00bcd4"/>
<rect x="986" y="706" width="1" height="11" fill="#ff9800"/>
<rect x="983" y="708" width="7" height="3" fill="#ff9800"/>
<rect x="995" y="703" width="1" height="9" fill="#00bcd4"/>
<rect x="992" y="706" width="7" height="5" fill="#00bcd4"/>
<rect x="1004" y="689" width="1" height="9" fill="#00bcd4"/>
<rect x="1001" y="694" width="7" height="3" fill="#00bcd4"/>
<rect x="1013" y="688" width="1" height="20" fill="#ff9800"/>
<rect x="1010" y="693" width="7" height="4" fill="#ff9800"/>
<rect x="1022" y="700" width="1" height="14" fill="#ff9800"/>
<rect x="1019" y="704" width="7" height="6" fill="#ff9800"/>
<rect x="1030" y="696" width="1" height="17" fill="#00bcd4"/>
<rect x="1027" y="700" width="7" height="10" fill="#00bcd4"/>
<rect x="1039" y="663" width="1" height="15" fill="#00bcd4"/>
<rect x="1036" y="666" width="7" height="12" fill="#00bcd4"/>
<rect x="1048" y="667" width="1" height="19" fill="#ff9800"/>
<rect x="1045" y="672" width="7" height="10" fill="#ff9800"/>
<rect x="1057" y="673" width="1" height="13" fill="#00bcd4"/>
<rect x="1054" y="680" width="7" height="2" fill="#00bcd4"/>
<rect x="1065" y="666" width="1" height="16" fill="#00bcd4"/>
<rect x="1062" y="668" width="7" height="10" fill="#00bcd4"/>
<rect x="1074" y="640" width="1" height="24" fill="#00bcd4"/>
<rect x="1071" y="648" width="7" height="4" fill="#00bcd4"/>
<rect x="1083" y="633" width="1" height="13" fill="#00bcd4"/>
<rect x="1080" y="641" width="7" height="4" fill="#00bcd4"/>
<rect x="1092" y="633" width="1" height="25" fill="#ff9800"/>
<rect x="1089" y="642" width="7" height="9" fill="#ff9800"/>
<rect x="1101" y="635" width="1" height="17" fill="#00bcd4"/>
<rect x="1098" y="637" width="7" height="10" fill="#00bcd4"/>
<rect x="1109" y="604" width="1" height="16" fill="#00bcd4"/>
<rect x="1106" y="608" width="7" height="7" fill="#00bcd4"/>
<rect x="1118" y="584" width="1" height="24" fill="#00bcd4"/>
<rect x="1115" y="587" width="7" height="21" fill="#00bcd4"/>
<rect x="1127" y="585" width="1" height="37" fill="#ff9800"/>
<rect x="1124" y="590" width="7" height="28" fill="#ff9800"/>
<rect x="1136" y="597" width="1" height="24" fill="#00bcd4"/>
<rect x="1133" y="609" width="7" height="4" fill="#00bcd4"/>
<rect x="1144" y="550" width="1" height="26" fill="#00bcd4"/>
<rect x="1141" y="558" width="7" height="11" fill="#00bcd4"/>
<rect x="1153" y="536" width="1" height="24" fill="#00bcd4"/>
<rect x="1150" y="547" width="7" height="13" fill="#00bcd4"/>
<rect x="1162" y="502" width="1" height="41" fill="#00bcd4"/>
<rect x="1159" y="515" width="7" height="25" fill="#00bcd4"/>
<rect x="1171" y="488" width="1" height="60" fill="#ff9800"/>
<rect x="1168" y="501" width="7" height="43" fill="#ff9800"/>
<rect x="1180" y="487" width="1" height="93" fill="#ff9800"/>
<rect x="1177" y="494" width="7" height="82" fill="#ff9800"/>
<rect x="1188" y="555" width="1" height="47" fill="#ff9800"/>
<rect x="1185" y="567" width="7" height="23" fill="#ff9800"/>
<rect x="1197" y="556" width="1" height="28" fill="#00bcd4"/>
<rect x="1194" y="564" width="7" height="10" fill="#00bcd4"/>
<rect x="1206" y="560" width="1" height="32" fill="#ff9800"/>
<rect x="1203" y="564" width="7" height="3" fill="#ff9800"/>
<rect x="1215" y="598" width="1" height="41" fill="#ff9800"/>
<rect x="1212" y="609" width="7" height="6" fill="#ff9800"/>
<rect x="1223" y="595" width="1" height="36" fill="#00bcd4"/>
<rect x="1220" y="609" width="7" height="11" fill="#00bcd4"/>
<rect x="1232" y="596" width="1" height="36" fill="#00bcd4"/>
<rect x="1229" y="604" width="7" height="24" fill="#00bcd4"/>
<rect x="1241" y="590" width="1" height="24" fill="#ff9800"/>
<rect x="1238" y="597" width="7" height="14" fill="#ff9800"/>
<rect x="1250" y="603" width="1" height="25" fill="#ff9800"/>
<rect x="1247" y="605" width="7" height="17" fill="#ff9800"/>
<rect x="1259" y="609" width="1" height="20" fill="#00bcd4"/>
<rect x="1256" y="611" width="7" height="18" fill="#00bcd4"/>
<rect x="1267" y="600" width="1" height="17" fill="#ff9800"/>
<rect x="1264" y="611" width="7" height="2" fill="#ff9800"/>
<rect x="1276" y="598" width="1" height="17" fill="#00bcd4"/>
<rect x="1273" y="606" width="7" height="8" fill="#00bcd4"/>
<rect x="1285" y="561" width="1" height="16" fill="#ff9800"/>
<rect x="1282" y="571" width="7" height="3" fill="#ff9800"/>
<rect x="1294" y="541" width="1" height="36" fill="#00bcd4"/>
<rect x="1291" y="543" width="7" height="26" fill="#00bcd4"/>
<rect x="1302" y="532" width="1" height="31" fill="#ff9800"/>
<rect x="1299" y="546" width="7" height="4" fill="#ff9800"/>
<rect x="1311" y="542" width="1" height="57" fill="#ff9800"/>
<rect x="1308" y="555" width="7" height="26" fill="#ff9800"/>
<rect x="1320" y="583" width="1" height="27" fill="#00bcd4"/>
<rect x="1317" y="588" width="7" height="8" fill="#00bcd4"/>
<rect x="1329" y="567" width="1" height="25" fill="#00bcd4"/>
<rect x="1326" y="583" width="7" height="6" fill="#00bcd4"/>
<rect x="1338" y="575" width="1" height="23" fill="#ff9800"/>
<rect x="1335" y="584" width="7" height="7" fill="#ff9800"/>
<rect x="1346" y="578" width="1" height="25" fill="#00bcd4"/>
<rect x="1343" y="584" width="7" height="3" fill="#00bcd4"/>
<rect x="1355" y="561" width="1" height="15" fill="#00bcd4"/>
<rect x="1352" y="566" width="7" height="3" fill="#00bcd4"/>
<rect x="1364" y="544" width="1" height="14" fill="#00bcd4"/>
<rect x="1361" y="546" width="7" height="12" fill="#00bcd4"/>
<rect x="1373" y="527" width="1" height="28" fill="#00bcd4"/>
<rect x="1370" y="530" width="7" height="18" fill="#00bcd4"/>
<rect x="1381" y="526" width="1" height="23" fill="#ff9800"/>
<rect x="1378" y="527" width="7" height="15" fill="#ff9800"/>
<rect x="1390" y="524" width="1" height="15" fill="#ff9800"/>
<rect x="1387" y="534" width="7" height="4" fill="#ff9800"/>
<rect x="1399" y="531" width="1" height="15" fill="#00bcd4"/>
<rect x="1396" y="534" width="7" height="3" fill="#00bcd4"/>
<rect x="1408" y="519" width="1" height="21" fill="#00bcd4"/>
<rect x="1405" y="534" width="7" height="2" fill="#00bcd4"/>
<rect x="1417" y="531" width="1" height="17" fill="#00bcd4"/>
<rect x="1414" y="536" width="7" height="6" fill="#00bcd4"/>
<rect x="1425" y="526" width="1" height="19" fill="#ff9800"/>
<rect x="1422" y="535" width="7" height="5" fill="#ff9800"/>
<rect x="1434" y="511" width="1" height="26" fill="#00bcd4"/>
<rect x="1431" y="512" width="7" height="18" fill="#00bcd4"/>
<rect x="1443" y="489" width="1" height="31" fill="#00bcd4"/>
<rect x="1440" y="507" width="7" height="7" fill="#00bcd4"/>
<rect x="1452" y="495" width="1" height="22" fill="#ff9800"/>
<rect x="1449" y="505" width="7" height="2" fill="#ff9800"/>
<rect x="1460" y="490" width="1" height="17" fill="#00bcd4"/>
<rect x="1457" y="493" width="7" height="14" fill="#00bcd4"/>
<rect x="1469" y="482" width="1" height="22" fill="#ff9800"/>
<rect x="1466" y="494" width="7" height="3" fill="#ff9800"/>
<rect x="1478" y="488" width="1" height="17" fill="#00bcd4"/>
<rect x="1475" y="489" width="7" height="8" fill="#00bcd4"/>
<rect x="1487" y="445" width="1" height="22" fill="#00bcd4"/>
<rect x="1484" y="452" width="7" height="9" fill="#00bcd4"/>
<rect x="1496" y="437" width="1" height="25" fill="#ff9800"/>
<rect x="1493" y="449" width="7" height="5" fill="#ff9800"/>
<rect x="1504" y="428" width="1" height="21" fill="#00bcd4"/>
<rect x="1501" y="438" width="7" height="10" fill="#00bcd4"/>
<rect x="1513" y="479" width="1" height="25" fill="#00bcd4"/>
<rect x="1510" y="489" width="7" height="12" fill="#00bcd4"/>
<rect x="1522" y="490" width="1" height="31" fill="#ff9800"/>
<rect x="1519" y="500" width="7" height="4" fill="#ff9800"/>
<rect x="1531" y="480" width="1" height="30" fill="#ff9800"/>
<rect x="1528" y="504" width="7" height="4" fill="#ff9800"/>
<rect x="1539" y="452" width="1" height="21" fill="#00bcd4"/>
<rect x="1536" y="455" width="7" height="13" fill="#00bcd4"/>
<rect x="1548" y="450" width="1" height="25" fill="#ff9800"/>
<rect x="1545" y="452" width="7" height="15" fill="#ff9800"/>
<rect x="1557" y="457" width="1" height="23" fill="#ff9800"/>
<rect x="1554" y="464" width="7" height="3" fill="#ff9800"/>
<rect x="1566" y="446" width="1" height="20" fill="#00bcd4"/>
<rect x="1563" y="454" width="7" height="4" fill="#00bcd4"/>
<rect x="1575" y="410" width="1" height="20" fill="#ff9800"/>
<rect x="1572" y="420" width="7" height="4" fill="#ff9800"/>
<rect x="1583" y="408" width="1" height="18" fill="#00bcd4"/>
<rect x="1580" y="412" width="7" height="14" fill="#00bcd4"/>
<rect x="1592" y="412" width="1" height="16" fill="#ff9800"/>
<rect x="1589" y="412" width="7" height="5" fill="#ff9800"/>
<rect x="1601" y="415" width="1" height="27" fill="#ff9800"/>
<rect x="1598" y="416" width="7" height="10" fill="#ff9800"/>
<rect x="1610" y="333" width="1" height="41" fill="#00bcd4"/>
<rect x="1607" y="350" width="7" height="22" fill="#00bcd4"/>
<rect x="1618" y="317" width="1" height="53" fill="#00bcd4"/>
<rect x="1615" y="326" width="7" height="25" fill="#00bcd4"/>
<rect x="1627" y="302" width="1" height="28" fill="#00bcd4"/>
<rect x="1624" y="306" width="7" height="13" fill="#00bcd4"/>
<rect x="1636" y="240" width="1" height="59" fill="#00bcd4"/>
<rect x="1633" y="274" width="7" height="25" fill="#00bcd4"/>
<rect x="1645" y="171" width="1" height="80" fill="#00bcd4"/>
<rect x="1642" y="205" width="7" height="40" fill="#00bcd4"/>
<rect x="1654" y="105" width="1" height="155" fill="#ff9800"/>
<rect x="1651" y="160" width="7" height="30" fill="#ff9800"/>
<rect x="1662" y="151" width="1" height="241" fill="#ff9800"/>
<rect x="1659" y="172" width="7" height="207" fill="#ff9800"/>
<rect x="1671" y="296" width="1" height="100" fill="#00bcd4"/>
<rect x="1668" y="319" width="7" height="77" fill="#00bcd4"/>
<rect x="1680" y="264" width="1" height="76" fill="#ff9800"/>
<rect x="1677" y="310" width="7" height="6" fill="#ff9800"/>
<rect x="1689" y="285" width="1" height="83" fill="#ff9800"/>
<rect x="1686" y="303" width="7" height="31" fill="#ff9800"/>
<rect x="1697" y="301" width="1" height="100" fill="#00bcd4"/>
<rect x="1694" y="306" width="7" height="56" fill="#00bcd4"/>
<rect x="1706" y="267" width="1" height="29" fill="#ff9800"/>
<rect x="1703" y="273" width="7" height="18" fill="#ff9800"/>
<rect x="1715" y="255" width="1" height="33" fill="#00bcd4"/>
<rect x="1712" y="269" width="7" height="16" fill="#00bcd4"/>
<rect x="1724" y="261" width="1" height="69" fill="#ff9800"/>
<rect x="1721" y="266" width="7" height="50" fill="#ff9800"/>
<rect x="1733" y="278" width="1" height="50" fill="#00bcd4"/>
<rect x="1730" y="285" width="7" height="31" fill="#00bcd4"/>
<rect x="1741" y="289" width="1" height="51" fill="#00bcd4"/>
<rect x="1738" y="294" width="7" height="38" fill="#00bcd4"/>
<rect x="1750" y="286" width="1" height="22" fill="#00bcd4"/>
<rect x="1747" y="300" width="7" height="2" fill="#00bcd4"/>
<rect x="1759" y="259" width="1" height="41" fill="#00bcd4"/>
<rect x="1756" y="274" width="7" height="20" fill="#00bcd4"/>
</g>
<rect x="0" y="1052" width="1852" height="1" fill="#2a2e39" shape-rendering="crispEdges"/>
<rect x="1853" y="1052" width="67" height="1" fill="#2a2e39" shape-rendering="crispEdges"/>
<g font-size="12" fill="#c8cbd3">
<text x="1896" y="1046.8" text-anchor="end" textLength="33.6" lengthAdjust="spacingAndGlyphs">2600.0</text>
<text x="1896" y="1015.8" text-anchor="end" textLength="33.6" lengthAdjust="spacingAndGlyphs">2700.0</text>
<text x="1896" y="984.8" text-anchor="end" textLength="33.6" lengthAdjust="spacingAndGlyphs">2800.0</text>
<text x="1896" y="954.8" text-anchor="end" textLength="33.6" lengthAdjust="spacingAndGlyphs">2900.0</text>
<text x="1896" y="923.8" text-anchor="end" textLength="33.6" lengthAdjust="spacingAndGlyphs">3000.0</text>
<text x="1896" y="892.8" text-anchor="end" textLength="33.6" lengthAdjust="spacingAndGlyphs">3100.0</text>
<text x="1896" y="861.8" text-anchor="end" textLength="33.6" lengthAdjust="spacingAndGlyphs">3200.0</text>
<text x="1896" y="830.8" text-anchor="end" textLength="33.6" lengthAdjust="spacingAndGlyphs">3300.0</text>
<text x="1896" y="799.8" text-anchor="end" textLength="33.6" lengthAdjust="spacingAndGlyphs">3400.0</text>
<text x="1896" y="768.8" text-anchor="end" textLength="33.6" lengthAdjust="spacingAndGlyphs">3500.0</text>
<text x="1896" y="737.8" text-anchor="end" textLength="33.6" lengthAdjust="spacingAndGlyphs">3600.0</text>
<text x="1896" y="706.8" text-anchor="end" textLength="33.6" lengthAdjust="spacingAndGlyphs">3700.0</text>
<text x="1896" y="675.8" text-anchor="end" textLength="33.6" lengthAdjust="spacingAndGlyphs">3800.0</text>
<text x="1896" y="644.8" text-anchor="end" textLength="33.6" lengthAdjust="spacingAndGlyphs">3900.0</text>
<text x="1896" y="613.8" text-anchor="end" textLength="33.6" lengthAdjust="spacingAndGlyphs">4000.0</text>
<text x="1896" y="582.8" text-anchor="end" textLength="33.6" lengthAdjust="spacingAndGlyphs">4100.0</text>
<text x="1896" y="551.8" text-anchor="end" textLength="33.6" lengthAdjust="spacingAndGlyphs">4200.0</text>
<text x="1896" y="520.8" text-anchor="end" textLength="33.6" lengthAdjust="spacingAndGlyphs">4300.0</text>
<text x="1896" y="489.8" text-anchor="end" textLength="33.6" lengthAdjust="spacingAndGlyphs">4400.0</text>
<text x="1896" y="458.8" text-anchor="end" textLength="33.6" lengthAdjust="spacingAndGlyphs">4500.0</text>
<text x="1896" y="427.8" text-anchor="end" textLength="33.6" lengthAdjust="spacingAndGlyphs">4600.0</text>
<text x="1896" y="396.8" text-anchor="end" textLength="33.6" lengthAdjust="spacingAndGlyphs">4700.0</text>
<text x="1896" y="334.8" text-anchor="end" textLength="33.6" lengthAdjust="spacingAndGlyphs">4900.0</text>
<text x="1896" y="210.8" text-anchor="end" textLength="33.6" lengthAdjust="spacingAndGlyphs">5300.0</text>
<text x="1896" y="179.8" text-anchor="end" textLength="33.6" lengthAdjust="spacingAndGlyphs">5400.0</text>
<text x="1896" y="148.8" text-anchor="end" textLength="33.6" lengthAdjust="spacingAndGlyphs">5500.0</text>
<text x="1896" y="87.8" text-anchor="end" textLength="33.6" lengthAdjust="spacingAndGlyphs">5700.0</text>
<text x="1896" y="56.8" text-anchor="end" textLength="33.6" lengthAdjust="spacingAndGlyphs">5800.0</text>
<text x="1896" y="25.8" text-anchor="end" textLength="33.6" lengthAdjust="spacingAndGlyphs">5900.0</text>
</g>
<path d="M1852 85h48a2 2 0 0 1 2 2v30a2 2 0 0 1 -2 2h-48z" fill="#ff9800"/>
<path d="M1852 232h48a2 2 0 0 1 2 2v30a2 2 0 0 1 -2 2h-48z" fill="#ff9800"/>
<path d="M1852 266h48a2 2 0 0 1 2 2v13a2 2 0 0 1 -2 2h-48z" fill="#00bcd4"/>
<path d="M1852 287h48a2 2 0 0 1 2 2v29a2 2 0 0 1 -2 2h-48z" fill="#00bcd4"/>
<path d="M1852 349h48a2 2 0 0 1 2 2v29a2 2 0 0 1 -2 2h-48z" fill="#00bcd4"/>
<path d="M1852 984h61a2 2 0 0 1 2 2v13a2 2 0 0 1 -2 2h-61z" fill="#00bcd4"/>
<g font-size="12" fill="#000000">
<text x="1896" y="98.2" text-anchor="end" textLength="33.6" lengthAdjust="spacingAndGlyphs">5641.0</text>
<text x="1896" y="114.9" text-anchor="end" textLength="33.6" lengthAdjust="spacingAndGlyphs">5611.0</text>
<text x="1896" y="245.2" text-anchor="end" textLength="33.6" lengthAdjust="spacingAndGlyphs">5165.0</text>
<text x="1896" y="261.9" text-anchor="end" textLength="33.6" lengthAdjust="spacingAndGlyphs">5135.0</text>
<text x="1896" y="278.5" text-anchor="end" textLength="33.6" lengthAdjust="spacingAndGlyphs">5080.9</text>
<text x="1896" y="299.8" text-anchor="end" textLength="33.6" lengthAdjust="spacingAndGlyphs">5015.0</text>
<text x="1896" y="316.5" text-anchor="end" textLength="33.6" lengthAdjust="spacingAndGlyphs">4985.0</text>
<text x="1896" y="362.3" text-anchor="end" textLength="33.6" lengthAdjust="spacingAndGlyphs">4815.0</text>
<text x="1896" y="378.6" text-anchor="end" textLength="33.6" lengthAdjust="spacingAndGlyphs">4785.0</text>
<text x="1909.5" y="996.8" text-anchor="end" textLength="47" lengthAdjust="spacingAndGlyphs">128.686K</text>
</g>
<g font-size="12" fill="#c8cbd3" text-anchor="middle">
<text x="55" y="1070.3">Mar</text>
<text x="205" y="1070.3">Apr</text>
<text x="354" y="1070.3">May</text>
<text x="494" y="1070.3">Jun</text>
<text x="635" y="1070.3">Jul</text>
<text x="802" y="1070.3">Aug</text>
<text x="942" y="1070.3">Sep</text>
<text x="1091" y="1070.3">Oct</text>
<text x="1250" y="1070.3">Nov</text>
<text x="1380.8" y="1070.3">Dec</text>
<text x="1670.6" y="1070.3">Feb</text>
<text x="1819.6" y="1070.3">Mar</text>
<text x="1530.9" y="1070.3" fill="#d1d4dc">2026</text>
</g>
<g transform="translate(1886.5,1066.5)" fill="none" stroke="#7e818d" stroke-width="1.1">
<circle r="4.8"/>
<line x1="5.20" y1="0.00" x2="7.60" y2="0.00"/>
<line x1="3.68" y1="3.68" x2="4.95" y2="4.95"/>
<line x1="0.00" y1="5.20" x2="0.00" y2="7.60"/>
<line x1="-3.68" y1="3.68" x2="-4.95" y2="4.95"/>
<line x1="-5.20" y1="0.00" x2="-7.60" y2="0.00"/>
<line x1="-3.68" y1="-3.68" x2="-4.95" y2="-4.95"/>
<line x1="-0.00" y1="-5.20" x2="-0.00" y2="-7.60"/>
<line x1="3.68" y1="-3.68" x2="4.95" y2="-4.95"/>
</g>
<circle cx="23.4" cy="1029.8" r="15.5" fill="#131722" stroke="rgba(255,255,255,0.14)" stroke-width="1"/>
<path d="M12.9 1024.8H22.1V1035.9H17.9V1028.9H12.9Z" fill="#fff"/>
<circle cx="24.9" cy="1026.9" r="1.8" fill="#fff"/>
<path d="M30.7 1024.8H34.6L29.9 1035.9H25Z" fill="#fff"/>
<g>
<text x="8.9" y="21.5" font-size="14" fill="#d1d4dc" textLength="184.1" lengthAdjust="spacingAndGlyphs">Gold Futures · 1D · COMEX</text>
<circle cx="217" cy="15.9" r="9" fill="#2a2e39"/><rect x="212" y="14.2" width="10" height="3.5" rx="1.75" fill="#9b9ea8"/>
<text x="242.0" y="21" font-size="12" fill="#d1d4dc" textLength="8.5" lengthAdjust="spacingAndGlyphs">O</text>
<text x="252.0" y="21" font-size="12" fill="#00bcd4" textLength="40.7" lengthAdjust="spacingAndGlyphs">5015.0</text>
<text x="297.9" y="21" font-size="12" fill="#d1d4dc" textLength="8.6" lengthAdjust="spacingAndGlyphs">H</text>
<text x="308.2" y="21" font-size="12" fill="#00bcd4" textLength="39.8" lengthAdjust="spacingAndGlyphs">5131.0</text>
<text x="354.2" y="21" font-size="12" fill="#d1d4dc" textLength="6.8" lengthAdjust="spacingAndGlyphs">L</text>
<text x="362.0" y="21" font-size="12" fill="#00bcd4" textLength="40.1" lengthAdjust="spacingAndGlyphs">4999.3</text>
<text x="407.3" y="21" font-size="12" fill="#d1d4dc" textLength="8.2" lengthAdjust="spacingAndGlyphs">C</text>
<text x="416.7" y="21" font-size="12" fill="#00bcd4" textLength="40.0" lengthAdjust="spacingAndGlyphs">5080.9</text>
<text x="462.6" y="21" font-size="12" fill="#00bcd4" textLength="33.2" lengthAdjust="spacingAndGlyphs">+83.5</text>
<text x="499.5" y="21" font-size="12" fill="#00bcd4" textLength="51.6" lengthAdjust="spacingAndGlyphs">(+1.67%)</text>
<text x="8.9" y="44.9" font-size="12" fill="#d1d4dc" textLength="30.6" lengthAdjust="spacingAndGlyphs">VPVR</text>
<text x="43.9" y="44.9" font-size="12" fill="#9598a1" textLength="197.2" lengthAdjust="spacingAndGlyphs">Number Of Rows 100 Up/Down 70</text>
<text x="254.2" y="44.9" font-size="12" fill="#b2b5be" textLength="48.8" lengthAdjust="spacingAndGlyphs">81.022K</text>
<text x="307.3" y="44.9" font-size="12" fill="#b2b5be" textLength="48.5" lengthAdjust="spacingAndGlyphs">97.453K</text>
<text x="361.1" y="44.9" font-size="12" fill="#5d606b" textLength="54.4" lengthAdjust="spacingAndGlyphs">178.475K</text>
<text x="8.9" y="68.9" font-size="12" fill="#d1d4dc" textLength="43.2" lengthAdjust="spacingAndGlyphs">Volume</text>
<text x="55.8" y="68.9" font-size="12" fill="#9598a1" textLength="33.1" lengthAdjust="spacingAndGlyphs">SMA 9</text>
<text x="102.6" y="68.9" font-size="12" fill="#00bcd4" textLength="55.1" lengthAdjust="spacingAndGlyphs">128.686K</text>
<rect x="9.5" y="78.5" width="28" height="20" rx="3.5" fill="#181c27" stroke="#363a45" stroke-width="1"/>
<path d="M19.5 90.4L23.5 86.5L27.5 90.4" fill="none" stroke="#d1d4dc" stroke-width="1.3"/>
</g>
</svg></body></html>
